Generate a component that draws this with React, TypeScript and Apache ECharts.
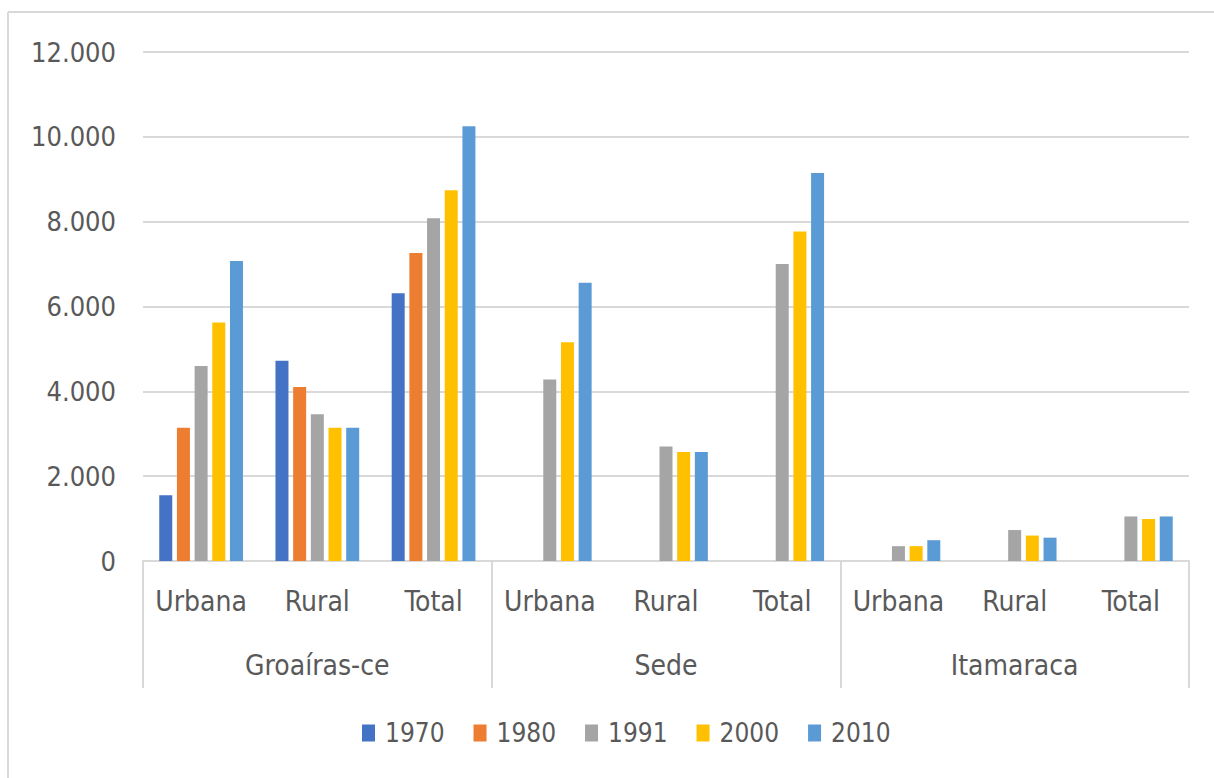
import React, { useEffect, useRef } from "react";
import * as echarts from "echarts";

const categories = ["Urbana", "Rural", "Total", "Urbana", "Rural", "Total", "Urbana", "Rural", "Total"];
const groups = ["Groaíras-ce", "Sede", "Itamaraca"];
const years = ["1970", "1980", "1991", "2000", "2010"];
const v1970 = [1550, 4720, 6310, null, null, null, null, null, null];
const v1980 = [3140, 4100, 7260, null, null, null, null, null, null];
const v1991 = [4600, 3460, 8080, 4280, 2700, 7000, 350, 730, 1050];
const v2000 = [5620, 3140, 8740, 5160, 2570, 7770, 350, 600, 990];
const v2010 = [7070, 3140, 10250, 6560, 2570, 9150, 490, 550, 1050];
const yTicks = { min: 0, max: 12000, interval: 2000 };
const colors = ["#4472C4", "#ED7D31", "#A5A5A5", "#FFC000", "#5B9BD5"];

const FONT = '"Liberation Sans Narrow", "DejaVu Sans Condensed", sans-serif';
const TXT = "#595959";
const GRID = "#d9d9d9";

export default function App() {
  const ref = useRef<HTMLDivElement>(null);
  useEffect(() => {
    if (!ref.current) return;
    const chart = echarts.init(ref.current, undefined, { renderer: "svg" });
    const values = [v1970, v1980, v1991, v2000, v2010];
    chart.setOption({
      animation: false,
      backgroundColor: "#ffffff",
      textStyle: { fontFamily: FONT, color: TXT },
      grid: { left: 143, right: 25, top: 52, bottom: 217, containLabel: false },
      legend: {
        data: years,
        left: 362,
        top: 720,
        padding: 0,
        itemWidth: 13,
        itemHeight: 17,
        itemGap: 29,
        icon: "rect",
        textStyle: { fontFamily: FONT, color: TXT, fontSize: 26, padding: [0, 0, 0, 5] },
      },
      xAxis: [
        {
          type: "category",
          data: categories,
          position: "bottom",
          axisLine: { show: true, lineStyle: { color: GRID, width: 2 } },
          axisTick: { show: false },
          axisLabel: { interval: 0, margin: 26, fontSize: 28, color: TXT, fontFamily: FONT },
        },
        {
          type: "category",
          data: groups,
          position: "bottom",
          axisLine: { show: false },
          axisTick: { show: true, length: 127, lineStyle: { color: GRID, width: 2 } },
          axisLabel: { interval: 0, margin: 90, fontSize: 28, color: TXT, fontFamily: FONT },
        },
      ],
      yAxis: {
        type: "value",
        min: yTicks.min,
        max: yTicks.max,
        interval: yTicks.interval,
        axisLine: { show: false },
        axisTick: { show: false },
        splitLine: { lineStyle: { color: GRID, width: 2 } },
        axisLabel: {
          margin: 27,
          fontSize: 27,
          color: TXT,
          fontFamily: FONT,
          formatter: (v: number) => (v === 0 ? "0" : String(v).replace(/\B(?=(\d{3})+(?!\d))/g, ".")),
        },
      },
      series: years.map((y, i) => ({
        name: y,
        type: "bar",
        xAxisIndex: 0,
        data: values[i],
        barWidth: 13,
        barGap: "36%",
        itemStyle: { color: colors[i] },
      })),
      graphic: [
        { type: "line", shape: { x1: 8, y1: 12, x2: 8, y2: 778 }, style: { stroke: GRID, lineWidth: 2 } },
        { type: "line", shape: { x1: 8, y1: 12, x2: 1214, y2: 12 }, style: { stroke: GRID, lineWidth: 2 } },
      ],
    });
    return () => chart.dispose();
  }, []);
  return <div ref={ref} style={{ position: "fixed", left: 0, top: 0, width: 1214, height: 778 }} />;
}
